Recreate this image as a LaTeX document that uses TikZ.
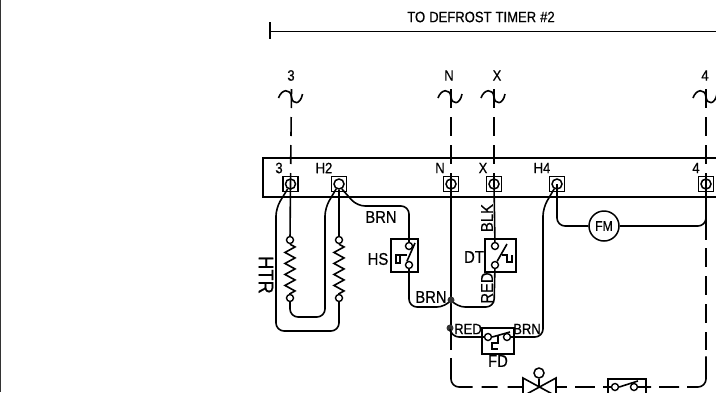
\documentclass[tikz,border=0pt]{standalone}
\usepackage{fontspec}
\setmainfont[FakeBold=0.5,FakeStretch=0.87]{Liberation Sans}
\usetikzlibrary{decorations.pathmorphing}

\tikzset{
  wire/.style={line width=1.6pt},
  dashwire/.style={wire, dash pattern=on 19pt off 9pt},
  bendwire/.style={wire, rounded corners=8pt},
  termbox/.style={draw, line width=1.5pt, minimum size=15pt, inner sep=0pt},
  termring/.style={draw, circle, line width=1.5pt, minimum size=10pt, inner sep=0pt},
  contact/.style={draw, circle, line width=1.4pt, minimum size=7pt, inner sep=0pt},
  swbox/.style={draw, line width=1.5pt, inner sep=0pt},
  dot/.style={circle, fill=black!80, minimum size=7pt, inner sep=0pt},
  lblbig/.style={inner sep=0pt, font=\fontsize{17}{17}\selectfont},
  lblsmall/.style={inner sep=0pt, font=\fontsize{15}{15}\selectfont},
  plug/.pic={\draw[wire] (-13,1) .. controls (-10,-8) and (-1,-9) .. (0,0) .. controls (1,8) and (9,8) .. (11,-3);}
}

\begin{document}
\begin{tikzpicture}[x=1pt,y=-1pt]
  \useasboundingbox (0,0) rectangle (716,392);
  \clip (0,0) rectangle (716,392);
  \fill[white] (0,0) rectangle (716,392);
  \draw[line width=1.6pt, black!80] (0.5,0) -- (0.5,392);

  % top bracket
  \draw[wire] (270,22) -- (270,39);
  \draw[wire] (270,31.5) -- (716,31.5);
  \node[lblsmall] (timer) at (481,17) {TO\hspace{4pt}DEFROST\hspace{4pt}TIMER\hspace{4pt}\#2};

  % terminal strip
  \draw[wire] (263,158) rectangle (722,197);
  \foreach \tname/\tx in {t3/290.5,th2/339,tn/451,tx/494,th4/557,tf/706}{
    \node[termbox] (\tname) at (\tx,184) {};
    \node[termring] (\tname r) at (\tname) {};
  }
  \node[lblsmall] (l3) at (279,168) {3};
  \node[lblsmall] (lh2) at (324,168) {H2};
  \node[lblsmall] (ln) at (440,168) {N};
  \node[lblsmall] (lx) at (483,168) {X};
  \node[lblsmall] (lh4) at (542,168) {H4};
  \node[lblsmall] (lf) at (696,168) {4};

  % plugs above the strip
  \foreach \pname/\px/\ptext/\lx in {p3/291.5/3/291,pn/451/N/449,px/494/X/497,pf/706/4/705}{
    \coordinate (\pname) at (\px,89);
    \pic at (\px,97) {plug};
    \node[lblsmall] at (\lx,75.5) {\ptext};
  }
  \draw[dashwire] (p3) -- (t3.center);
  \draw[dashwire] (pn) -- (tn.center);
  \draw[dashwire] (px) -- (tx.center);
  \draw[dashwire] (pf) -- (tf.center);

  % heater
  \node[contact] (ca) at (290,240) {};
  \node[contact] (cb) at (290,298) {};
  \node[contact] (cc) at (339,240) {};
  \node[contact] (cd) at (339,298) {};
  \draw[wire, decorate, decoration={zigzag,segment length=11pt,amplitude=5pt}] (ca) -- (cb);
  \draw[wire, decorate, decoration={zigzag,segment length=11pt,amplitude=5pt}] (cc) -- (cd);
  \draw[wire] (t3.center) -- (ca);
  \draw[wire] (th2r) -- (cc);
  \draw[bendwire] (t3r.240) -- (276,208) -- (276,331) -- (339,331) -- (cd);
  \draw[bendwire] (th2r.240) -- (325,208) -- (325,317) -- (290,317) -- (cb);
  \node[rotate=-90, inner sep=0pt, font=\fontsize{21}{21}\selectfont] (htr) at (266,275) {HTR};

  % HS
  \node[swbox, minimum width=27pt, minimum height=33pt] (hs) at (404.5,255.5) {};
  \node[contact] (hsa) at (409,246) {};
  \node[contact] (hsb) at (409,265) {};
  \draw[wire] (hsb.120) -- (415,243);
  \draw[wire] (407,255) -- (396,255) -- (396,263) -- (400,263) -- (400,255);
  \draw[bendwire] (th2r.300) -- (357,206) -- (409,206) -- (hsa);
  \draw[bendwire] (hsb) -- (409,307) -- (445,307) -- (451,300);
  \node[lblbig] (lbrna) at (381,217) {BRN};
  \node[lblbig] (lhs) at (378,259) {HS};

  % DT
  \node[swbox, minimum width=31pt, minimum height=33pt] (dt) at (500.5,255.5) {};
  \node[contact] (dta) at (495,246) {};
  \node[contact] (dtb) at (495,265) {};
  \draw[wire] (dtb.60) -- (507,244);
  \draw[wire] (502,255) -- (507,255) -- (507,262) -- (512,262) -- (512,255);
  \draw[wire] (tx.center) -- (dta);
  \draw[bendwire] (dtb) -- (494,307) -- (457,307) -- (451,300);
  \node[lblbig] (ldt) at (474,257) {DT};
  \node[rotate=90, lblbig] (lblk) at (487,218) {BLK};
  \node[rotate=90, lblbig] (lred) at (487,288) {RED};
  \node[lblbig] (lbrnb) at (431,297) {BRN};

  % N wire and junctions
  \coordinate (nb) at (451,350);
  \draw[wire] (tn.center) -- (nb);
  \node[dot] (ja) at (451,300) {};
  \node[dot] (jb) at (450,328) {};

  % FD
  \node[swbox, minimum width=32pt, minimum height=26pt] (fd) at (498,341) {};
  \node[contact] (fda) at (488,337) {};
  \node[contact] (fdb) at (507,337) {};
  \draw[wire] (fda.east) -- (510,332);
  \draw[wire] (498,335) -- (498,343) -- (492,343) -- (492,349) -- (498,349);
  \draw[bendwire] (jb) -- (451,337) -- (fda);
  \draw[bendwire] (fdb) -- (543,337) -- (543,208) -- (th4r.240);
  \node[lblsmall] (lred2) at (468,329) {RED};
  \node[lblsmall] (lbrnc) at (527,329) {BRN};
  \node[lblbig] (lfd) at (498,361) {FD};

  % FM
  \node[draw, circle, line width=1.5pt, minimum size=30pt, inner sep=0pt, font=\fontsize{14}{14}\selectfont] (fm) at (604,226) {FM};
  \draw[bendwire] (th4.center) -- (557,226) -- (fm);
  \draw[bendwire] (fm) -- (706,226) -- (tf.center);

  % valve and bottom switch
  \coordinate (vl) at (523,387);
  \coordinate (vr) at (556,387);
  \node[draw, circle, line width=1.5pt, minimum size=10pt, inner sep=0pt] (vs) at (539,373) {};
  \draw[wire] (523,378) -- (556,396) -- (556,378) -- (523,396) -- cycle;
  \draw[wire] (vs) -- (539,387);
  \node[swbox, minimum width=38pt, minimum height=26pt] (fs) at (627,392) {};
  \node[contact] (fsa) at (615,387) {};
  \node[contact] (fsb) at (634,387) {};
  \draw[wire] (fsa.east) -- (638,381);

  % dashed return
  \coordinate (nc) at (451,358);
  \coordinate (fc) at (706,350);
  \coordinate (fd2) at (706,248);
  \coordinate (fe) at (706,240);
  \draw[bendwire, dash pattern=on 47pt off 9pt on 16pt off 10pt on 15pt off 90pt] (nc) -- (451,387) -- (vl);
  \draw[wire, dash pattern=on 11pt off 8pt on 20pt off 8pt on 9pt off 30pt] (vr) -- (fsa);
  \draw[bendwire, dash pattern=on 13pt off 8pt on 20pt off 8pt on 46pt off 300pt] (fsb) -- (706,387) -- (fc);
  \draw[dashwire] (fd2) -- (fc);
  \draw[wire] (tf.center) -- (fe);
\end{tikzpicture}
\end{document}
